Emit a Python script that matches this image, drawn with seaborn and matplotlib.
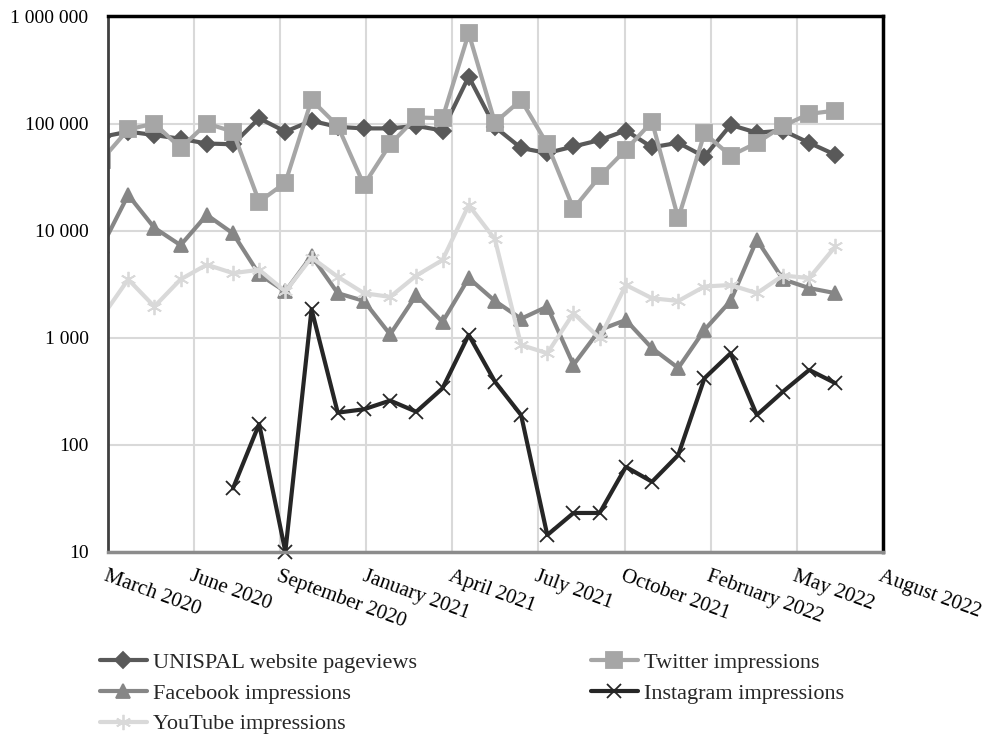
import numpy as np
import pandas as pd
import seaborn as sns
import matplotlib.pyplot as plt

# Monthly values, Feb 2020 .. Jun 2022 (first month sits just left of the axis)
month_idx = np.arange(29)

pageviews = [75000, 84000, 78000, 72000, 65000, 64000, 112000, 84000, 106000, 93000,
             90000, 90000, 95000, 86000, 274000, 93000, 59000, 53000, 61000, 70000,
             86000, 60000, 66000, 49000, 97000, 82000, 86000, 66000, 51000]
twitter = [46000, 88000, 100000, 59000, 100000, 84000, 18600, 28000, 166000, 95000,
           26700, 64000, 114000, 112000, 697000, 102000, 166000, 64000, 16000, 32000,
           57000, 104000, 13000, 81000, 50000, 66000, 95000, 123000, 132000]
facebook = [7100, 21500, 10600, 7300, 14000, 9400, 3900, 2700, 5800, 2600,
            2200, 1070, 2500, 1400, 3600, 2200, 1500, 1950, 556, 1180,
            1460, 795, 520, 1180, 2200, 8200, 3500, 2900, 2600]
youtube = [1560, 3500, 1950, 3500, 4800, 4000, 4300, 2700, 5600, 3700,
           2600, 2400, 3800, 5300, 17300, 8300, 853, 714, 1690, 986,
           3100, 2330, 2200, 3000, 3100, 2600, 3800, 3600, 7100]
instagram = [np.nan, np.nan, np.nan, np.nan, np.nan, 39, 156, 10, 1840, 199,
             214, 258, 203, 336, 1060, 388, 189, 14.3, 23, 23,
             62, 45, 80, 417, 714, 189, 313, 499, 375]

tick_labels = ['March 2020', 'June 2020', 'September 2020', 'January 2021', 'April 2021',
               'July 2021', 'October 2021', 'February 2022', 'May 2022', 'August 2022']
y_ticks = [10, 100, 1000, 10000, 100000, 1000000]
y_labels = ['10', '100', '1 000', '10 000', '100 000', '1 000 000']

sns.set_style('white')
plt.rcParams['font.family'] = ['Liberation Serif', 'DejaVu Serif']

fig = plt.figure(figsize=(9.82, 7.35), dpi=100)
ax = fig.add_axes([0.110, 0.2494, 0.789, 0.7282])

# name, values, colour, marker, size, clip
series = [
    ('UNISPAL website pageviews', pageviews, '#595959', 'D', 8, True),
    ('Twitter impressions', twitter, '#a6a6a6', 's', 11, True),
    ('Facebook impressions', facebook, '#868686', '^', 10, True),
    ('Instagram impressions', instagram, '#262626', 'x', 10, False),
    ('YouTube impressions', youtube, '#d9d9d9', (6, 2, 0), 11, True),
]

handles = {}
for name, vals, col, mk, ms, clip in series:
    sns.lineplot(x=month_idx, y=vals, ax=ax, color=col, marker=mk, markersize=ms,
                 markeredgecolor=col, markerfacecolor=col, markeredgewidth=1.3,
                 linewidth=3, label=name, clip_on=clip)
    handles[name] = ax.get_lines()[-1]

ax.set_yscale('log')
ax.set_ylim(10, 1000000)
ax.set_yticks(y_ticks)
ax.set_yticklabels(y_labels)
ax.minorticks_off()
ax.set_xlim(0.23, 29.81)
ax.set_xticks(np.linspace(0.23, 29.81, 10))
ax.set_xticklabels(tick_labels, rotation=-20, ha='left', va='top', rotation_mode='anchor')
ax.tick_params(axis='both', length=0, labelsize=14, colors='black')
ax.tick_params(axis='x', labelsize=15, pad=11)
ax.tick_params(axis='y', pad=14)
ax.grid(True, color='#d9d9d9', linewidth=1.5)
ax.set_xlabel('')
ax.set_ylabel('')

for side in ['top', 'right']:
    ax.spines[side].set_color('black')
    ax.spines[side].set_linewidth(2.5)
ax.spines['left'].set_color('#404040')
ax.spines['left'].set_linewidth(2)
ax.spines['bottom'].set_color('#8c8c8c')
ax.spines['bottom'].set_linewidth(2.5)

ax.get_legend().remove()
order = ['UNISPAL website pageviews', 'Facebook impressions', 'YouTube impressions',
         'Twitter impressions', 'Instagram impressions']
fig.legend([handles[n] for n in order], order, ncol=2, loc='upper left',
           bbox_to_anchor=(0.1018, 0.112), frameon=False, fontsize=16,
           handlelength=2.1, handletextpad=0.27, columnspacing=7.85,
           labelspacing=0.45, borderpad=0, borderaxespad=0)

fig.savefig('out.png', dpi=100)
